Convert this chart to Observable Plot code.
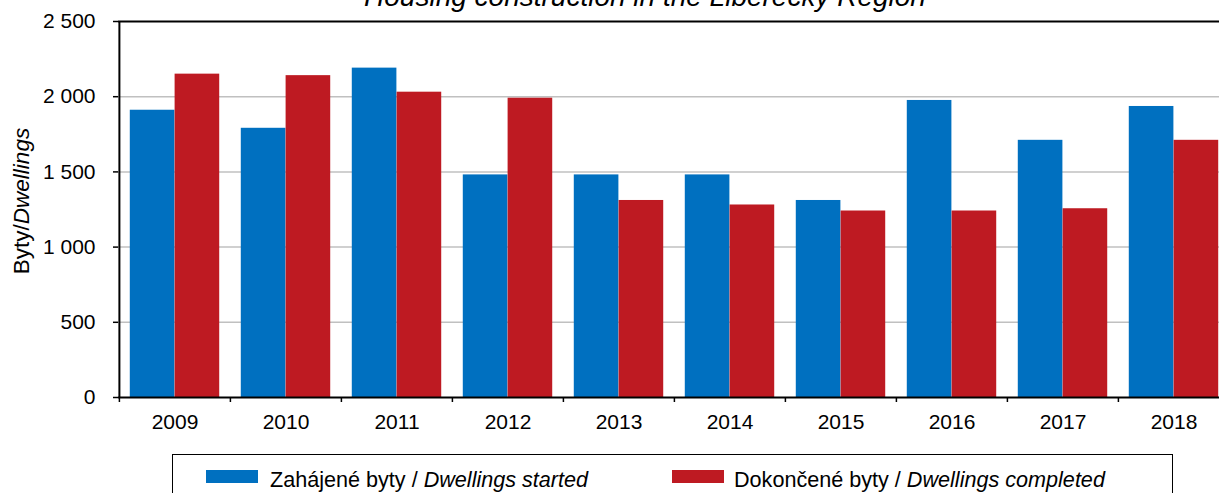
<!DOCTYPE html>
<html>
<head>
<meta charset="utf-8">
<script src="https://cdn.jsdelivr.net/npm/d3@7"></script>
<script src="https://cdn.jsdelivr.net/npm/@observablehq/plot@0.6"></script>
<style>
  html, body { margin: 0; padding: 0; background: #fff; }
  body { width: 1219px; height: 493px; overflow: hidden; position: relative; font-family: "Liberation Sans", Arial, sans-serif; color: #000; }
  #title { position: absolute; z-index: 5; left: 0; width: 1290px; top: -17px; text-align: center; font-style: italic; font-size: 28px; line-height: 28px; white-space: nowrap; }
  #chart { position: absolute; left: 0; top: 0; }
  #ylabel { position: absolute; left: 22px; top: 201px; transform: translate(-50%, -50%) rotate(-90deg); font-size: 22.5px; white-space: nowrap; line-height: 1; }
  #legend { position: absolute; left: 172px; top: 454px; width: 1001px; height: 60px; border: 1.5px solid #000; box-sizing: border-box; }
  .item { position: absolute; top: 14px; font-size: 21.6px; line-height: 1; white-space: nowrap; }
  .sw { position: absolute; top: 15px; width: 52px; height: 13px; }
</style>
</head>
<body>
<div id="title">Housing construction in the Liberecký Region</div>
<div id="chart"></div>
<div id="ylabel">Byty/<i>Dwellings</i></div>
<div id="legend"></div>
<script>
// ---- data ----
const years = ["2009", "2010", "2011", "2012", "2013", "2014", "2015", "2016", "2017", "2018"];
const started = [1910, 1790, 2190, 1480, 1480, 1480, 1310, 1975, 1710, 1935];
const completed = [2150, 2140, 2030, 1990, 1310, 1280, 1240, 1240, 1255, 1710];
const yTicks = [0, 500, 1000, 1500, 2000, 2500];
const seriesNames = ["Zahájené byty / ", "Dokončené byty / "];
const seriesNamesEn = ["Dwellings started", "Dwellings completed"];
const colors = ["#0070c0", "#be1a22"];

const rows = years.map((year, i) => ({year, started: started[i], completed: completed[i]}));

const W = 1240, H = 437, mL = 118, mR = 10, mT = 21, mB = 40;
const step = (W - mL - mR) / years.length;
const outer = step * 0.097;
const fmt = d => d3.format(",")(d).replace(/,/g, " ");

const chart = Plot.plot({
  width: W, height: H,
  marginLeft: mL, marginRight: mR, marginTop: mT, marginBottom: mB,
  style: {fontFamily: "'Liberation Sans', Arial, sans-serif", fontSize: "21px", color: "#000", background: "transparent", maxWidth: "none", overflow: "visible"},
  x: {domain: years, padding: 0, axis: null, label: null},
  y: {domain: [0, 2500], axis: null, label: null},
  marks: [
    Plot.ruleY(yTicks.slice(1, -1), {stroke: "#c0c0c0", strokeWidth: 1.5}),
    Plot.barY(rows, {x: "year", y: "started", fill: colors[0], insetLeft: outer, insetRight: step / 2}),
    Plot.barY(rows, {x: "year", y: "completed", fill: colors[1], insetLeft: step / 2, insetRight: outer}),
    Plot.ruleY([2500], {stroke: "#000", strokeWidth: 2}),
    Plot.ruleY([0], {stroke: "#000", strokeWidth: 2}),
    Plot.ruleX([years[0]], {dx: -step / 2, y1: 0, y2: 2500, stroke: "#000", strokeWidth: 2}),
    Plot.ruleX(years, {dx: -step / 2, y1: 0, y2: 0, insetBottom: -5, stroke: "#000", strokeWidth: 1.5}),
    Plot.axisY(yTicks, {tickSize: 5, tickPadding: 18, tickFormat: fmt, strokeWidth: 1.5, label: null}),
    Plot.axisX({tickSize: 0, tickPadding: 17, label: null})
  ]
});
document.getElementById("chart").appendChild(chart);

// legend
const legend = document.getElementById("legend");
const swX = [33, 499], txX = [97, 561];
seriesNames.forEach((name, i) => {
  const sw = document.createElement("div");
  sw.className = "sw"; sw.style.left = swX[i] + "px"; sw.style.background = colors[i];
  legend.appendChild(sw);
  const t = document.createElement("div");
  t.className = "item"; t.style.left = txX[i] + "px";
  t.innerHTML = name + "<i>" + seriesNamesEn[i] + "</i>";
  legend.appendChild(t);
});
</script>
</body>
</html>
